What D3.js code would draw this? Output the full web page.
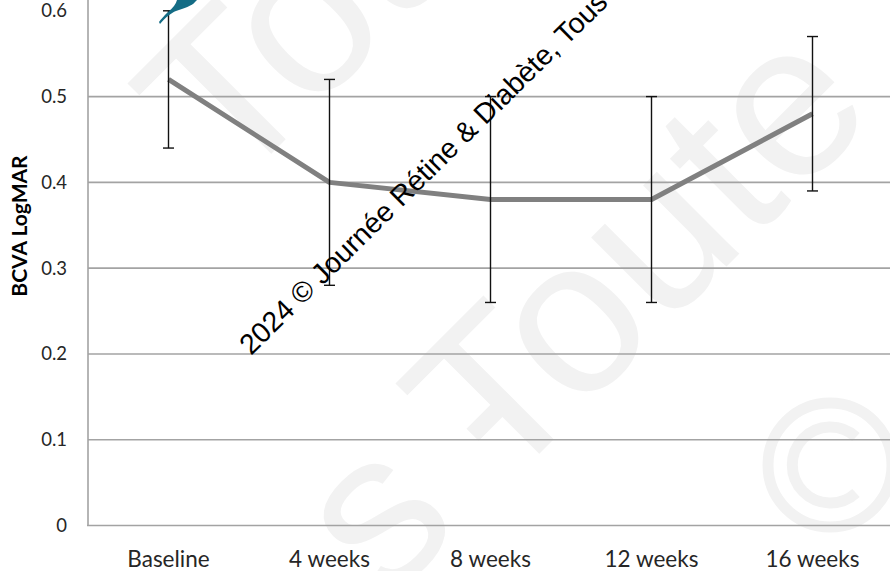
<!DOCTYPE html>
<html><head><meta charset="utf-8">
<script src="https://cdn.jsdelivr.net/npm/d3@7"></script>
<style>html,body{margin:0;padding:0;background:#fff;}svg{display:block;}</style>
</head><body>
<svg id="chart" width="890" height="571"></svg>
<script>
const categories = ["Baseline", "4 weeks", "8 weeks", "12 weeks", "16 weeks"];
const meanValues = [0.52, 0.40, 0.38, 0.38, 0.48];
const errLow = [0.44, 0.28, 0.26, 0.26, 0.39];
const errHigh = [0.60, 0.52, 0.50, 0.50, 0.57];
const yTicks = [0, 0.1, 0.2, 0.3, 0.4, 0.5, 0.6];
const gridTicks = [0.1, 0.2, 0.3, 0.4, 0.5];
const yTitle = "BCVA LogMAR";
const watermark = "2024 © Journée Rétine & Diabète, Tous droits réservés";

const svg = d3.select("#chart");
const x = d3.scaleBand().domain(categories).range([88, 893]).padding(0);
const y = d3.scaleLinear().domain([0, 0.6]).range([525.5, 10.8]);
const cx = d => x(d) + x.bandwidth() / 2;

// faint background watermark
const faintCol = "#f2f2f2";
const faint = svg.append("g").attr("fill", faintCol)
  .style("font-family", "Liberation Sans, Arial, sans-serif");
[["Toute", 499, 494], ["Toute", 231, 194], ["s - ", 386, 604]].forEach(([t, tx, ty]) => {
  faint.append("text").attr("transform", `translate(${tx},${ty}) rotate(-45)`)
    .style("font-size", "220px").text(t);
});
faint.append("circle").attr("cx", 830).attr("cy", 465).attr("r", 62)
  .attr("fill", "none").attr("stroke", faintCol).attr("stroke-width", 11);
faint.append("path").attr("d", "M856,437 A38,38 0 1,0 856,493")
  .attr("fill", "none").attr("stroke", faintCol).attr("stroke-width", 11);

// gridlines
svg.append("g").selectAll("line").data(gridTicks).join("line")
  .attr("x1", 88).attr("x2", 890)
  .attr("y1", d => y(d)).attr("y2", d => y(d))
  .attr("stroke", "#a3a3a3").attr("stroke-width", 1.6);

// axes lines
svg.append("line").attr("x1", 88).attr("x2", 88).attr("y1", 0).attr("y2", y(0))
  .attr("stroke", "#a3a3a3").attr("stroke-width", 1.6);
svg.append("line").attr("x1", 87).attr("x2", 890).attr("y1", y(0)).attr("y2", y(0))
  .attr("stroke", "#a3a3a3").attr("stroke-width", 1.6);

// y tick labels
svg.append("g").selectAll("text").data(yTicks).join("text")
  .attr("x", 67).attr("y", d => y(d)).attr("dy", "0.35em")
  .attr("text-anchor", "end").attr("fill", "#262626")
  .style("font-family", "Lato, 'Open Sans', sans-serif").style("font-size", "18.5px")
  .text(d => d === 0 ? "0" : d.toFixed(1));

// x labels
svg.append("g").selectAll("text").data(categories).join("text")
  .attr("x", d => cx(d)).attr("y", 567)
  .attr("text-anchor", "middle").attr("fill", "#262626")
  .style("font-family", "Lato, 'Open Sans', sans-serif").style("font-size", "22.5px")
  .text(d => d);

// y title
svg.append("text").attr("transform", `translate(27,226) rotate(-90)`)
  .attr("text-anchor", "middle").attr("fill", "#000")
  .style("font-family", "Lato, 'Open Sans', sans-serif").style("font-size", "21px").style("font-weight", "bold")
  .text(yTitle);

// line
const pts = categories.map((c, i) => [cx(c), y(meanValues[i])]);
svg.append("path").attr("d", d3.line()(pts)).attr("fill", "none")
  .attr("stroke", "#808080").attr("stroke-width", 5).attr("stroke-linejoin", "round");

// error bars
const eb = svg.append("g").attr("stroke", "#111").attr("stroke-width", 1.4);
categories.forEach((c, i) => {
  eb.append("line").attr("x1", cx(c)).attr("x2", cx(c)).attr("y1", y(errLow[i])).attr("y2", y(errHigh[i]));
  eb.append("line").attr("x1", cx(c) - 5.5).attr("x2", cx(c) + 5.5).attr("y1", y(errLow[i])).attr("y2", y(errLow[i]));
  eb.append("line").attr("x1", cx(c) - 5.5).attr("x2", cx(c) + 5.5).attr("y1", y(errHigh[i])).attr("y2", y(errHigh[i]));
});

// teal decoration
svg.append("path").attr("fill", "#146c85")
  .attr("d", "M160,24 C166,17 171,13 176,11 C184,8 192,6 195,2 L197,0 L177,0 C176,4 173,8 168,12 C164,16 161,19 159,22 Z");

// black watermark text
svg.append("text").attr("transform", "translate(251,356) rotate(-44.5)")
  .attr("fill", "#000").style("font-family", "Liberation Sans, Arial, sans-serif").style("font-size", "28.5px")
  .text(watermark);
</script>
</body></html>
